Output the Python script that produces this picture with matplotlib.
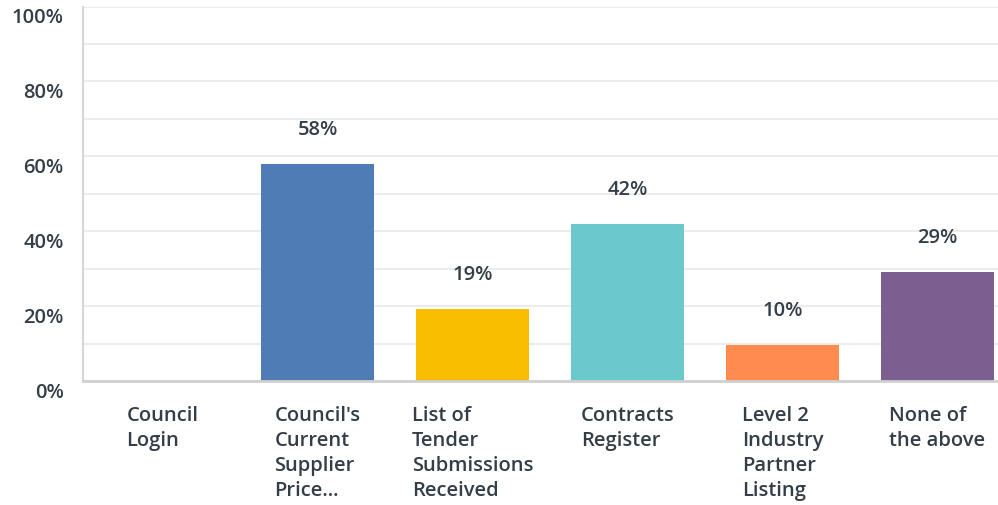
import matplotlib
matplotlib.use("Agg")
import matplotlib.pyplot as plt
import matplotlib.transforms as mtransforms

categories = ["Council\nLogin", "Council's\nCurrent\nSupplier\nPrice...",
              "List of\nTender\nSubmissions\nReceived", "Contracts\nRegister",
              "Level 2\nIndustry\nPartner\nListing", "None of\nthe above"]
values = [0.0, 58.06, 19.35, 41.94, 9.68, 29.03]
value_labels = ["", "58%", "19%", "42%", "10%", "29%"]
colors = ["#507cb6", "#507cb6", "#f9be00", "#6bc8cd", "#ff8b4f", "#7d5e90"]
ytick_vals = [0, 20, 40, 60, 80, 100]
ytick_labels = ["0%", "20%", "40%", "60%", "80%", "100%"]

plt.rcParams['font.family'] = ['Open Sans', 'DejaVu Sans']
txt = "#333e48"
fs = 14.5

fig = plt.figure(figsize=(9.98, 5.05), dpi=100)
W, H = 998, 505
ax = fig.add_axes([83 / W, 1 - 381 / H, (998 - 83) / W, (381 - 6.5) / H])

x = list(range(len(categories)))
ax.bar(x, values, width=0.729, color=colors, zorder=3)
ax.set_xlim(-0.513, 5.39)
ax.set_ylim(0, 100)

ax.set_yticks(ytick_vals)
ax.set_yticklabels(ytick_labels, fontsize=fs, color=txt, fontweight='semibold')
ax.set_yticks(range(10, 100, 20), minor=True)
ax.tick_params(axis='y', which='both', length=0, pad=14)
ax.yaxis.grid(True, which='both', color="#ececec", linewidth=1.5, zorder=0)
offset = mtransforms.ScaledTranslation(0, -9 / 100, fig.dpi_scale_trans)
for lab in ax.get_yticklabels():
    lab.set_transform(lab.get_transform() + offset)

ax.set_xticks(x)
ax.set_xticklabels(categories, fontsize=fs, color=txt, fontweight='semibold',
                   ha='center', va='top', multialignment='left', linespacing=1.34)
ax.tick_params(axis='x', length=0, pad=18)

for s in ['top', 'right']:
    ax.spines[s].set_visible(False)
ax.spines['left'].set_color("#d6d6d6")
ax.spines['left'].set_linewidth(1.5)
ax.spines['bottom'].set_color("#d0d0d0")
ax.spines['bottom'].set_linewidth(2)
ax.spines['bottom'].set_zorder(4)

for xi, v, lab in zip(x, values, value_labels):
    if lab:
        ax.annotate(lab, (xi, v), xytext=(0, 24), textcoords='offset pixels',
                    ha='center', va='bottom', fontsize=fs, color=txt,
                    fontweight='semibold')

fig.savefig("out.png", dpi=100)
